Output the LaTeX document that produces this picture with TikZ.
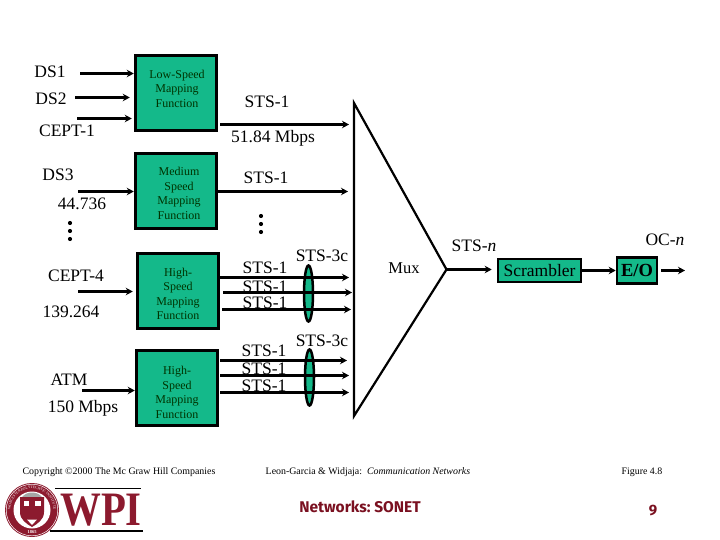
\documentclass[tikz,border=0pt]{standalone}
\usepackage{fontspec}
\setmainfont{Liberation Serif}
\newfontfamily\logofont{Fira Sans}
\usetikzlibrary{arrows.meta,calc,decorations.text,shapes.geometric}
\definecolor{boxgreen}{HTML}{14B98A}
\definecolor{wpired}{HTML}{8C1A2E}
\definecolor{titlered}{HTML}{7A1020}
\tikzset{
  mapbox/.style={draw=black,line width=3pt,fill=boxgreen,minimum width=81.5pt,minimum height=75pt,inner sep=0pt},
  boxtext/.style={inner sep=0pt,align=center,font=\fontsize{12}{14.5}\selectfont,text=black!80!green},
  wide/.style={draw=black,line width=2.6pt,fill=boxgreen,inner sep=0pt},
  lab/.style={inner sep=0pt,font=\fontsize{17.5}{19}\selectfont},
  foot/.style={inner sep=0pt,font=\fontsize{9.9}{11}\selectfont},
  arr/.style={line width=3pt,-{Stealth[length=7pt,width=7.5pt]}},
  muxline/.style={line width=2.2pt},
  lens/.style={draw=black,line width=2.5pt,fill=boxgreen,ellipse,minimum width=9pt,minimum height=56pt,inner sep=0pt},
  dotm/.style={circle,fill=black,minimum size=4.2pt,inner sep=0pt}
}
\begin{document}
\begin{tikzpicture}[x=1pt,y=-1pt]
\useasboundingbox (0,0) rectangle (720,540);
% boxes
\node[mapbox] (b1) at (176,93) {};
\node[mapbox] (b2) at (176,191) {};
\node[mapbox] (b3) at (178,290.5) {};
\node[mapbox] (b4) at (177,388) {};
\node[boxtext] (t1) at (177,88.5) {Low-Speed\\Mapping\\Function};
\node[boxtext] (t2) at (179,193.5) {Medium\\Speed\\Mapping\\Function};
\node[boxtext] (t3) at (178,294) {High-\\Speed\\Mapping\\Function};
\node[boxtext] (t4) at (177,392.5) {High-\\Speed\\Mapping\\Function};
\node[wide,minimum width=83pt,minimum height=23pt,font=\fontsize{17.5}{19}\selectfont] (scr) at (539.5,270.5) {Scrambler};
\node[wide,minimum width=40pt,minimum height=26pt,font=\fontsize{18.5}{20}\selectfont] (eo) at (637,270.5) {\bfseries E/O};
% mux
\coordinate (muxT) at (354,103);
\coordinate (muxB) at (354,416);
\coordinate (muxA) at (446.5,269.5);
\draw[muxline,line join=miter] (muxA) -- (muxT) -- (muxB) -- (muxA);
\node[lab,font=\fontsize{16.5}{18}\selectfont] (muxl) at (404,268) {Mux};
% input arrows
\coordinate (i1) at (80,73.5);
\coordinate (i2) at (75,97.5);
\coordinate (i3) at (77,118.5);
\coordinate (i4) at (78,191.5);
\coordinate (i5) at (78,291.5);
\coordinate (i6) at (82,390.5);
\draw[arr] (i1) -- (b1.west |- i1);
\draw[arr,shorten >=4pt] (i2) -- (b1.west |- i2);
\draw[arr,shorten >=2pt] (i3) -- (b1.west |- i3);
\draw[arr] (i4) -- (b2.west |- i4);
\draw[arr,shorten >=3pt] (i5) -- (b3.west |- i5);
\draw[arr] (i6) -- (b4.west |- i6);
% output arrows
\coordinate (o1) at (220,124.5);
\coordinate (o2) at (218,191.5);
\coordinate (o3) at (220,277.5);
\coordinate (o4) at (223,292.5);
\coordinate (o5) at (222,309.5);
\coordinate (o6) at (220,360.5);
\coordinate (o7) at (220,375.5);
\coordinate (o8) at (220,392.5);
\draw[arr,shorten >=5pt] (o1) -- (muxT |- o1);
\draw[arr,shorten >=6pt] (o2) -- (muxT |- o2);
\node[lab] (s1) at (267,102) {STS-1};
\node[lab] (mb) at (273,138.5) {51.84 Mbps};
\node[lab] (s2) at (266,178) {STS-1};
\node[lab] (s3) at (265,267.5) {STS-1};
\node[lab] (s4) at (265,287) {STS-1};
\node[lab] (s5) at (265,303) {STS-1};
\node[lab] (s6) at (264,351) {STS-1};
\node[lab] (s7) at (264,369) {STS-1};
\node[lab] (s8) at (264,386) {STS-1};
\node[lab] (c1) at (322,256) {STS-3c};
\node[lab] (c2) at (322,341) {STS-3c};
\node[lens] (e1) at (308.5,293.5) {};
\node[lens] (e2) at (309.5,377.5) {};
\draw[arr,shorten >=5pt] (o3) -- (muxT |- o3);
\draw[arr,shorten >=2pt] (o4) -- (muxT |- o4);
\draw[arr,shorten >=3pt] (o5) -- (muxT |- o5);
\draw[arr,shorten >=7pt] (o6) -- (muxT |- o6);
\draw[arr,shorten >=5pt] (o7) -- (muxT |- o7);
\draw[arr,shorten >=5pt] (o8) -- (muxT |- o8);
% right chain
\coordinate (oend) at (685,270.5);
\draw[arr,shorten >=5pt] (muxA) -- (scr.west |- muxA);
\draw[arr] (scr.east) -- (eo.west);
\draw[arr,shorten <=3pt] (eo.east) -- (oend);
\node[lab] (stsn) at (474,246) {STS-\textit{n}};
\node[lab] (ocn) at (665,240) {OC-\textit{n}};
% input labels
\node[lab] (l1) at (50,72) {DS1};
\node[lab] (l2) at (51,99) {DS2};
\node[lab] (l3) at (67,131) {CEPT-1};
\node[lab] (l4) at (58,174.5) {DS3};
\node[lab] (l5) at (82,204) {44.736};
\node[lab] (l6) at (76,275.5) {CEPT-4};
\node[lab] (l7) at (71,312) {139.264};
\node[lab] (l8) at (69,380) {ATM};
\node[lab] (l9) at (83,408) {150 Mbps};
% dots
\foreach \n/\x/\y in {a/70/223,b/70/231,c/70/239,d/261/216,e/261/224,f/261/232}
  \node[dotm] (dot\n) at (\x,\y) {};
% footer
\node[foot] (f1) at (119,472) {Copyright \textcopyright 2000 The Mc Graw Hill Companies};
\node[foot,anchor=west] (f2) at (265.5,472) {Leon-Garcia \& Widjaja:\ \ \textit{Communication Networks}};
\node[foot] (f3) at (642,472) {Figure 4.8};
\node[inner sep=0pt,text=titlered,font=\logofont\bfseries\fontsize{15.5}{17}\selectfont] (f4) at (360,507) {Networks:\ SONET};
\node[inner sep=0pt,text=titlered,font=\logofont\bfseries\fontsize{15}{16}\selectfont] (f5) at (653,511) {9};
% logo
\fill[wpired] (32,510) circle (27);
\draw[white,line width=.5pt] (32,510) circle (25.8);
\fill[white] (32,510) circle (18.5);
\fill[black!35] (22,497) .. controls (27,491) and (37,491) .. (42,497) -- cycle;
\fill[wpired] (20,497) -- (44,497) -- (44,512) .. controls (44,520) and (37,524) .. (32,527) .. controls (27,524) and (20,520) .. (20,512) -- cycle;
\fill[white] (23.5,500.5) rectangle (29,505.5);
\fill[white] (35,500.5) rectangle (40.5,505.5);
\fill[white] (27,519.5) -- (37,519.5) -- (32,525) -- cycle;
\path[decorate,decoration={text along path,text align=center,text={|\fontsize{3.6}{4}\selectfont\color{white}|WORCESTER POLYTECHNIC INSTITUTE}}] (32,510) ++(172:21.5 and 21.5) arc[start angle=172,end angle=368,radius=21.5];
\node[inner sep=0pt,text=white,font=\bfseries\fontsize{4.5}{5}\selectfont] (yr) at (32,532) {1865};
\draw[line width=0.9pt] (55,488) -- (141,488);
\draw[line width=1.8pt] (50,531) -- (143,531);
\node[inner sep=0pt,text=wpired,font=\bfseries\fontsize{48}{50}\selectfont] (wpi) at (101,510) {\scalebox{.85}[1]{WPI}};
\end{tikzpicture}
\end{document}
